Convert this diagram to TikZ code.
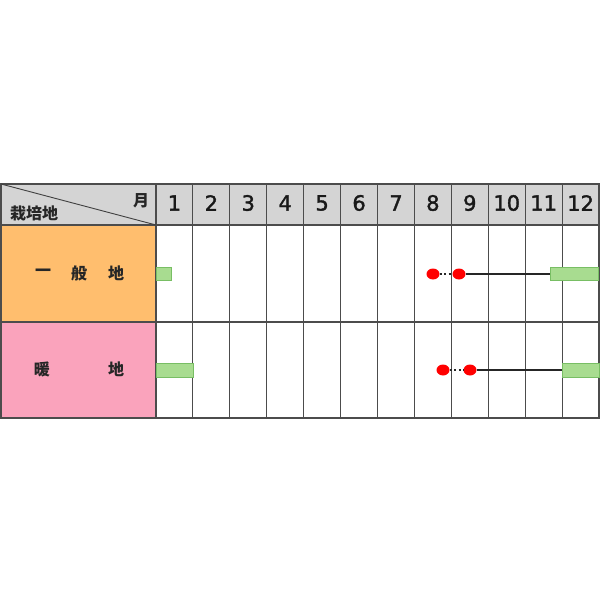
\documentclass[tikz,border=0pt]{standalone}
\usepackage{fontspec}
\usetikzlibrary{shapes.geometric}
\newfontfamily\cjk{Noto Sans CJK JP}
\newfontface\numf[FakeBold=1.6]{DejaVu Sans}
\definecolor{barg}{RGB}{168,220,144}
\definecolor{barb}{RGB}{120,190,100}
\definecolor{hdrg}{RGB}{212,212,212}
\definecolor{org}{RGB}{255,190,110}
\definecolor{pnk}{RGB}{250,163,188}
\begin{document}
\begin{tikzpicture}[x=1pt,y=-1pt,
  grid/.style={draw=black!70,line width=1.1pt},
  hdrnum/.style={font=\numf\fontsize{21}{21}\selectfont, text=black!90, inner sep=0pt},
  lbl/.style={font=\cjk\fontsize{16}{16}\selectfont\bfseries, text=black!85, inner sep=0pt},
  hlbl/.style={font=\cjk\fontsize{16}{16}\selectfont\bfseries, text=black!85, inner sep=0pt},
  gbar/.style={fill=barg, draw=barb, line width=0.6pt, inner sep=0pt},
  rdot/.style={fill=red, draw=none, ellipse, minimum width=13pt, minimum height=11pt, inner sep=0pt},
  conn/.style={draw=black!85, line width=1.6pt},
  dconn/.style={draw=black!85, line width=1.6pt, dash pattern=on 2pt off 2.5pt}
]
\useasboundingbox (0,0) rectangle (600,600);
% backgrounds
\fill[hdrg] (1,184) rectangle (599,225);
\fill[org] (1,225) rectangle (156,322);
\fill[pnk] (1,322) rectangle (156,418);
% grid
\foreach \i in {0,...,11} {
  \pgfmathsetmacro{\xx}{156+\i*36.92}
  \draw[grid] (\xx,184) -- (\xx,418);
}
\draw[grid] (1,184) rectangle (599,418);
\draw[grid] (1,225) -- (599,225);
\draw[grid] (1,322) -- (599,322);
\draw[draw=black!75,line width=0.9pt] (1,184) -- (156,225);
% header texts
\node[hlbl] (moon) at (141,201) {月};
\node[hlbl] (saibai) at (34,213) {栽培地};
\foreach \m in {1,...,12} {
  \pgfmathsetmacro{\xx}{156+(\m-0.5)*36.92}
  \node[hdrnum] (m\m) at (\xx,203) {\m};
}
% row labels
\node[lbl] (r1a) at (43,273) {一};
\node[lbl] (r1b) at (79,273) {般};
\node[lbl] (r1c) at (116,273) {地};
\node[lbl] (r2a) at (42,369) {暖};
\node[lbl] (r2b) at (116,369) {地};
% row 1
\node[gbar, minimum width=15pt, minimum height=13pt] (b1a) at (164,274) {};
\node[rdot] (d1a) at (433,274) {};
\node[rdot] (d1b) at (459,274) {};
\node[gbar, minimum width=48pt, minimum height=13pt] (b1b) at (574.5,274) {};
\draw[dconn] (d1a) -- (d1b);
\draw[conn] (d1b) -- (b1b);
% row 2
\node[gbar, minimum width=37pt, minimum height=14pt] (b2a) at (175,370) {};
\node[rdot] (d2a) at (443,370) {};
\node[rdot] (d2b) at (470,370) {};
\node[gbar, minimum width=37pt, minimum height=14pt] (b2b) at (580.5,370) {};
\draw[dconn] (d2a) -- (d2b);
\draw[conn] (d2b) -- (b2b);
\end{tikzpicture}
\end{document}
